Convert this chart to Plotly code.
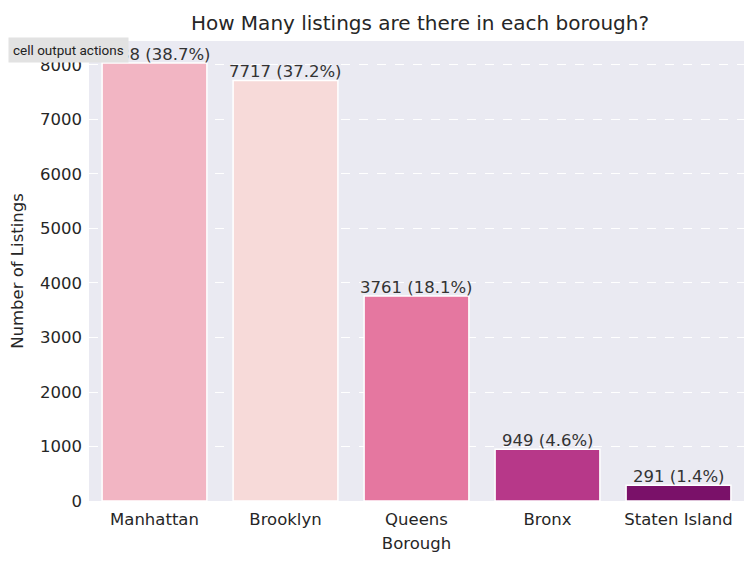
import plotly.graph_objects as go

boroughs = ["Manhattan", "Brooklyn", "Queens", "Bronx", "Staten Island"]
listings = [8038, 7717, 3761, 949, 291]
percents = [38.7, 37.2, 18.1, 4.6, 1.4]
bar_colors = ["#F2B5C3", "#F7DAD9", "#E577A0", "#B73889", "#7A1169"]
y_ticks = [0, 1000, 2000, 3000, 4000, 5000, 6000, 7000, 8000]

labels = [f"{v} ({p}%)" for v, p in zip(listings, percents)]

FONT = "DejaVu Sans"
TXT = "#262626"
fig = go.Figure(go.Bar(
    x=boroughs, y=listings,
    marker=dict(color=bar_colors, line=dict(color="white", width=1.5)),
    width=0.8,
))
for b, v, lab in zip(boroughs, listings, labels):
    fig.add_annotation(x=b, y=v, text=lab, showarrow=False, yanchor="bottom", yshift=-3,
                       font=dict(family=FONT, size=16.5, color="#333333"))

# page body has an 8px margin, so the figure is shifted by 8px in the window
fig.update_layout(
    width=745, height=556,
    margin=dict(l=81, r=9, t=33, b=63, autoexpand=False),
    paper_bgcolor="white", plot_bgcolor="#EAEAF2",
    showlegend=False,
    title=dict(text="How Many listings are there in each borough?", x=0.553, xanchor="center",
               y=1 - 14.5 / 556, yanchor="middle",
               font=dict(family=FONT, size=20, color=TXT)),
    font=dict(family=FONT, color=TXT),
)
fig.update_xaxes(
    range=[-0.5, 4.5], showgrid=False, zeroline=False, automargin=False,
    tickfont=dict(family=FONT, size=16.5, color=TXT),
    title=dict(text="Borough", font=dict(family=FONT, size=16.5, color=TXT), standoff=9),
    ticks="", ticklabelstandoff=6,
)
fig.update_yaxes(
    range=[0, 8440], tickvals=y_ticks, showgrid=True, automargin=False,
    gridcolor="white", griddash="dash", gridwidth=1, zeroline=False,
    tickfont=dict(family=FONT, size=16.5, color=TXT),
    title=dict(text="Number of Listings", font=dict(family=FONT, size=16.5, color=TXT), standoff=12),
    ticks="", ticklabelstandoff=6,
)
# notebook tooltip overlay seen in the screenshot
fig.add_annotation(text="cell output actions", xref="paper", yref="paper",
                   x=(0 - 81) / 655, xanchor="left", y=(493 - 42) / 460, yanchor="middle",
                   showarrow=False, bgcolor="#E2E2E2", borderpad=4,
                   font=dict(family="Roboto", size=13.5, color="#222222"))

fig.write_html("out.html")
